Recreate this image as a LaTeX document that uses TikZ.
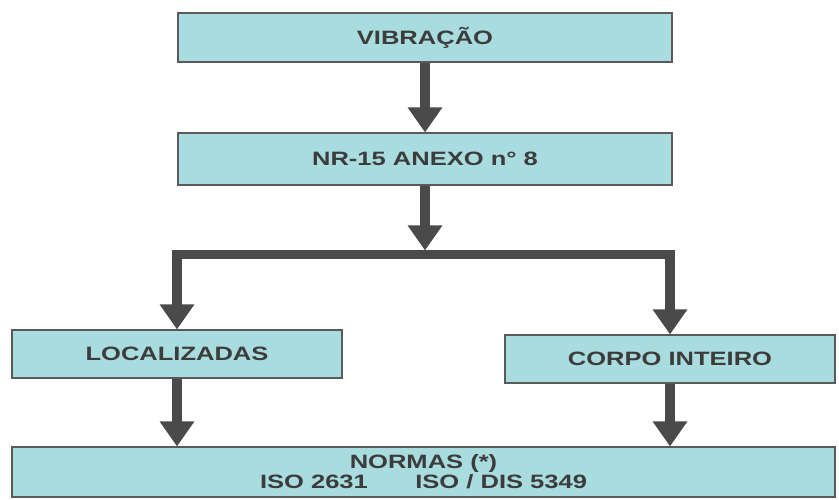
\documentclass[tikz,border=0pt]{standalone}
\usepackage{fontspec}
\setmainfont{Liberation Sans}[FakeStretch=1.32]
\usetikzlibrary{arrows.meta}
\definecolor{VBFill}{HTML}{A9DCDE}
\definecolor{VBEdge}{HTML}{5A5A5A}
\definecolor{VBArrow}{HTML}{4A4A4A}
\definecolor{VBText}{HTML}{3C3C3C}

\begin{document}
\begin{tikzpicture}[x=1cm,y=1cm,
  box/.style={draw=VBEdge,line width=.6pt,fill=VBFill,text=VBText,inner sep=0pt,align=center,
    font=\fontsize{11}{11.4}\selectfont\bfseries},
  flow/.style={draw=VBArrow,line width=.19cm,line join=miter,-{Triangle[width=.66cm,length=.5cm]}}]
\path[use as bounding box] (0,0) rectangle (16.78,10);
\fill[white] (0,0) rectangle (16.78,10);
% boxes
\node[box,minimum width=9.88cm,minimum height=.98cm] (vib) at (8.5,9.25) {VIBRAÇÃO};
\node[box,minimum width=9.88cm,minimum height=1.04cm] (nr) at (8.5,6.82) {NR-15 ANEXO n° 8};
\node[box,minimum width=6.6cm,minimum height=.96cm] (loc) at (3.54,2.92) {LOCALIZADAS};
\node[box,minimum width=6.6cm,minimum height=.96cm] (corpo) at (13.4,2.82) {CORPO INTEIRO};
\node[box,minimum width=16.46cm,minimum height=1cm] (normas) at (8.47,.56)
  {NORMAS (*)\\ISO 2631\hspace{.95cm}ISO / DIS 5349};
\coordinate (split) at (8.5,4.91);
% arrows
\draw[flow] (vib) -- (nr);
\draw[flow] (nr) -- ([yshift=.08cm]split);
\draw[flow] (split) -| (loc);
\draw[flow] (split) -| (corpo);
\draw[flow] (loc) -- (loc |- normas.north);
\draw[flow] (corpo) -- (corpo |- normas.north);
\end{tikzpicture}
\end{document}
